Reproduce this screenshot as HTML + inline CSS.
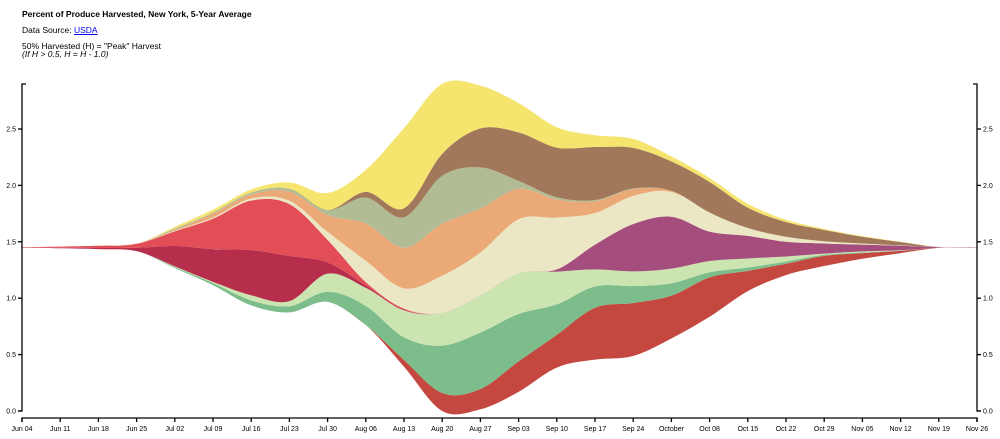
<!DOCTYPE html>
<html><head><meta charset="utf-8">
<style>
html,body{margin:0;padding:0;background:#fff;width:1000px;height:439px;overflow:hidden;font-family:"Liberation Sans",Arial,sans-serif;}
#hdr{position:absolute;left:22px;top:0;font-size:8.5px;color:#000;}
#hdr div{position:absolute;white-space:nowrap;}
a{color:#00e;}
svg{position:absolute;left:0;top:0;}
svg text{font-family:"Liberation Sans",Arial,sans-serif;font-size:7px;fill:#000;}
</style></head><body>
<div id="hdr">
<div style="top:9px;font-weight:bold;">Percent of Produce Harvested, New York, 5-Year Average</div>
<div style="top:25px;">Data Source: <a href="#">USDA</a></div>
<div style="top:41px;">50% Harvested (H) = "Peak" Harvest</div>
<div style="top:49px;font-style:italic;">(If H &gt; 0.5, H = H - 1.0)</div>
</div>
<svg id="chart" width="1000" height="439"></svg>
<script>
const weeks = ["Jun 04","Jun 11","Jun 18","Jun 25","Jul 02","Jul 09","Jul 16","Jul 23","Jul 30","Aug 06","Aug 13","Aug 20","Aug 27","Sep 03","Sep 10","Sep 17","Sep 24","October","Oct 08","Oct 15","Oct 22","Oct 29","Nov 05","Nov 12","Nov 19","Nov 26"];
const yTicks = [0.0,0.5,1.0,1.5,2.0,2.5];
const layerNames = ["darkred","green","lightgreen","crimson","red","purple","cream","orange","sage","brown","yellow"];
const darkred   = [0,0,0,0,0,0,0,0,0,0,0.06,0.16,0.18,0.27,0.29,0.46,0.47,0.38,0.35,0.18,0.10,0.09,0.05,0.02,0.001,0];
const green     = [0,0,0,0,0.01,0.02,0.045,0.055,0.09,0.17,0.2,0.42,0.5,0.42,0.27,0.19,0.15,0.11,0.045,0.03,0.02,0.01,0.005,0.002,0,0];
const lightgreen= [0,0,0,0,0.005,0.01,0.045,0.045,0.16,0.16,0.24,0.29,0.33,0.36,0.29,0.15,0.13,0.13,0.10,0.08,0.045,0.01,0.01,0.003,0,0];
const crimson   = [0,0.005,0.01,0.03,0.18,0.29,0.40,0.40,0.10,0.02,0.005,0,0,0,0,0,0,0,0,0,0,0,0,0,0,0];
const red       = [0.005,0.01,0.02,0.035,0.13,0.27,0.44,0.46,0.20,0.03,0.01,0,0,0,0,0,0,0,0,0,0,0,0,0,0,0];
const purple    = [0,0,0,0,0,0,0,0,0,0,0,0,0,0,0.02,0.22,0.42,0.46,0.26,0.20,0.13,0.09,0.06,0.04,0.005,0.003];
const cream     = [0,0,0,0,0.005,0.01,0.018,0.03,0.07,0.19,0.18,0.33,0.38,0.48,0.46,0.28,0.25,0.22,0.17,0.07,0.045,0.02,0.01,0.003,0,0];
const orange    = [0,0,0,0,0.01,0.035,0.035,0.08,0.15,0.33,0.36,0.46,0.39,0.27,0.16,0.105,0.06,0.01,0,0,0,0,0,0,0,0];
const sage      = [0,0,0,0,0.01,0.01,0.018,0.027,0.045,0.23,0.27,0.425,0.365,0.07,0.02,0.01,0.005,0,0,0,0,0,0,0,0,0];
const brown     = [0,0,0,0,0,0,0,0,0,0.05,0.08,0.195,0.345,0.43,0.44,0.47,0.36,0.26,0.27,0.18,0.13,0.10,0.06,0.03,0.001,0];
const yellow    = [0,0,0,0,0.015,0.025,0.027,0.055,0.15,0.195,0.71,0.62,0.38,0.26,0.18,0.105,0.08,0.045,0.035,0.035,0.02,0.01,0.005,0.002,0,0];
const layers = [darkred,green,lightgreen,crimson,red,purple,cream,orange,sage,brown,yellow];
const colors = ["#c4483f","#7dbd8c","#cbe4b0","#b72d4c","#e34d56","#a54e7d","#ebe7c5","#eca978","#b1bb94","#a2785b","#f5e46e"];
const center = 1.45;

const X0=22, X1=977, Y0=411, YPU=112.8;
const x = i => X0 + (X1-X0)*i/(weeks.length-1);
const y = v => Y0 - v*YPU;
const svg = document.getElementById('chart');
const NS='http://www.w3.org/2000/svg';
function mk(t,a){const e=document.createElementNS(NS,t);for(const k in a)e.setAttribute(k,a[k]);return e;}

// stack (silhouette around center)
const n=weeks.length;
const totals=[];for(let i=0;i<n;i++){let s=0;for(const L of layers)s+=L[i];totals.push(s);}
const lo=[],hi=[];let base=totals.map(t=>center-t/2);
layers.forEach(L=>{const a=base.slice();const b=a.map((v,i)=>v+L[i]);lo.push(a);hi.push(b);base=b;});

function curve(pts){ // catmull-rom to bezier
  let d='';
  for(let i=0;i<pts.length-1;i++){
    const p0=pts[Math.max(0,i-1)],p1=pts[i],p2=pts[i+1],p3=pts[Math.min(pts.length-1,i+2)];
    const c1=[p1[0]+(p2[0]-p0[0])/6,p1[1]+(p2[1]-p0[1])/6];
    const c2=[p2[0]-(p3[0]-p1[0])/6,p2[1]-(p3[1]-p1[1])/6];
    d+=(i===0?'M'+p1[0]+','+p1[1]:'')+'C'+c1[0]+','+c1[1]+' '+c2[0]+','+c2[1]+' '+p2[0]+','+p2[1];
  }
  return d;
}
const g=mk('g',{});


svg.appendChild(g);
layers.forEach((L,k)=>{
  const top=hi[k].map((v,i)=>[x(i),y(v)]);
  const bot=lo[k].map((v,i)=>[x(i),y(v)]).reverse();
  const d=curve(top)+'L'+bot[0][0]+','+bot[0][1]+curve(bot).replace(/^M[^C]*/,'')+'Z';
  const p=mk('path',{d:d,fill:colors[k]});
  
  
  g.appendChild(p);
});

// axes
const ax=mk('g',{stroke:'#000','stroke-width':1.3,fill:'none'});


svg.appendChild(ax);
const yTop=84;
const la=mk('path',{d:`M${X0+4},${yTop}H${X0}V${Y0}H${X0-4}`});


ax.appendChild(la);
const ra=mk('path',{d:`M${X1-4},${yTop}H${X1}V${Y0}H${X1+4}`});


ax.appendChild(ra);
const BY=418;
const ba=mk('path',{d:`M${X0},${BY+4}V${BY}H${X1}V${BY+4}`});


ax.appendChild(ba);
yTicks.forEach(v=>{
  const t1=mk('line',{x1:X0-4,x2:X0,y1:y(v),y2:y(v)});
  
  
  ax.appendChild(t1);
  const t2=mk('line',{x1:X1,x2:X1+4,y1:y(v),y2:y(v)});
  
  
  ax.appendChild(t2);
  const l1=mk('text',{x:X0-6,y:y(v)+2.5,'text-anchor':'end'});l1.textContent=v.toFixed(1);
  
  
  svg.appendChild(l1);
  const l2=mk('text',{x:X1+6,y:y(v)+2.5,'text-anchor':'start'});l2.textContent=v.toFixed(1);
  
  
  svg.appendChild(l2);
});
weeks.forEach((w,i)=>{
  const t=mk('line',{x1:x(i),x2:x(i),y1:BY,y2:BY+4});
  
  
  ax.appendChild(t);
  const l=mk('text',{x:x(i),y:BY+13,'text-anchor':'middle'});l.textContent=w;
  
  
  svg.appendChild(l);
});
</script>
</body></html>
